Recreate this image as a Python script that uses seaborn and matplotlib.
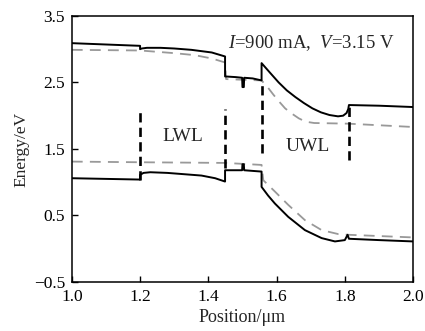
import numpy as np
import pandas as pd
import matplotlib
matplotlib.use("Agg")
import matplotlib.pyplot as plt
import seaborn as sns

# Conduction band (solid, upper)
cb_x = [1.0, 1.2, 1.2, 1.205, 1.22, 1.26, 1.30, 1.35, 1.41, 1.449, 1.449, 1.48, 1.499, 1.500, 1.504, 1.505, 1.53, 1.556,
        1.556, 1.58, 1.606, 1.63, 1.655, 1.68, 1.705, 1.73, 1.755, 1.78, 1.795, 1.805, 1.81, 1.812, 1.9, 2.0]
cb_y = [3.09, 3.05, 3.00, 3.01, 3.02, 3.02, 3.01, 2.99, 2.95, 2.89, 2.59, 2.58, 2.57, 2.43, 2.43, 2.57, 2.56, 2.53,
        2.79, 2.65, 2.50, 2.38, 2.28, 2.19, 2.11, 2.05, 2.01, 1.99, 2.00, 2.04, 2.10, 2.16, 2.15, 2.13]

# Electron quasi-Fermi level (grey dashed, upper)
fn_x = [1.0, 1.2, 1.3, 1.36, 1.41, 1.449, 1.452, 1.50, 1.556, 1.575, 1.59, 1.606, 1.625, 1.645, 1.665, 1.685, 1.71, 1.81, 2.0]
fn_y = [2.99, 2.98, 2.94, 2.91, 2.86, 2.80, 2.55, 2.54, 2.53, 2.42, 2.32, 2.22, 2.11, 2.03, 1.96, 1.91, 1.89, 1.88, 1.83]

# Valence band (solid, lower)
vb_x = [1.0, 1.2, 1.2, 1.21, 1.23, 1.28, 1.33, 1.38, 1.42, 1.449, 1.449, 1.48, 1.499, 1.500, 1.504, 1.505, 1.53, 1.556,
        1.556, 1.575, 1.595, 1.634, 1.683, 1.732, 1.771, 1.80, 1.808, 1.812, 1.9, 2.0]
vb_y = [1.06, 1.04, 1.11, 1.14, 1.15, 1.14, 1.12, 1.10, 1.06, 1.01, 1.18, 1.18, 1.18, 1.27, 1.27, 1.18, 1.17, 1.16,
        0.93, 0.80, 0.68, 0.48, 0.28, 0.16, 0.11, 0.13, 0.21, 0.15, 0.13, 0.11]

# Hole quasi-Fermi level (grey dashed, lower)
fp_x = [1.0, 1.2, 1.45, 1.556, 1.561, 1.595, 1.634, 1.683, 1.732, 1.781, 1.81, 2.0]
fp_y = [1.31, 1.30, 1.29, 1.26, 1.03, 0.86, 0.66, 0.43, 0.28, 0.22, 0.21, 0.17]

# Boundary markers (black dashed verticals)
mark_x = [1.2, 1.449, 1.556, 1.812]
mark_lo = [1.03, 1.22, 1.44, 1.33]
mark_hi = [2.10, 2.10, 2.52, 2.16]

x_ticks = [1.0, 1.2, 1.4, 1.6, 1.8, 2.0]
y_ticks = [-0.5, 0.5, 1.5, 2.5, 3.5]

sns.set_style("white")
plt.rcParams["font.family"] = ["Liberation Serif", "DejaVu Serif"]
plt.rcParams["mathtext.fontset"] = "custom"
plt.rcParams["mathtext.it"] = "Liberation Serif:italic"
plt.rcParams["mathtext.rm"] = "Liberation Serif"

fig, ax = plt.subplots(figsize=(4.25, 3.31), dpi=100)
fig.subplots_adjust(left=0.169, right=0.972, top=0.952, bottom=0.148)

def line(xs, ys, **kw):
    df = pd.DataFrame({"x": xs, "y": ys})
    sns.lineplot(data=df, x="x", y="y", sort=False, estimator=None, ax=ax, **kw)

line(fn_x, fn_y, color="#999999", lw=1.3, dashes=(6, 4))
line(fp_x, fp_y, color="#999999", lw=1.3, dashes=(6, 4))
line(cb_x, cb_y, color="black", lw=1.4)
line(vb_x, vb_y, color="black", lw=1.4)
for mx, lo, hi in zip(mark_x, mark_lo, mark_hi):
    line([mx, mx], [lo, hi], color="black", lw=1.9, dashes=(3.5, 2))

ax.set_xlim(1.0, 2.0)
ax.set_ylim(-0.5, 3.5)
ax.set_xticks(x_ticks)
ax.set_yticks(y_ticks)
ax.set_xticklabels([f"{v:.1f}" for v in x_ticks])
ax.set_yticklabels([f"{v:.1f}".replace("-", "\u2212") for v in y_ticks])
ax.tick_params(direction="in", length=4, width=1, labelsize=12.5, pad=5, colors="black",
               top=False, right=False, bottom=True, left=True)
for s in ax.spines.values():
    s.set_color("black")
    s.set_linewidth(1.1)

ax.set_xlabel("Position/\u03bcm", fontsize=13, labelpad=3)
ax.set_ylabel("Energy/eV", fontsize=12.5, labelpad=3)

ax.text(0.947, 0.898, r"$I$=900 mA,  $V$=3.15 V", transform=ax.transAxes, ha="right", va="center", fontsize=13.5)
ax.text(1.326, 1.68, "LWL", ha="center", va="center", fontsize=14)
ax.text(1.692, 1.535, "UWL", ha="center", va="center", fontsize=14)

fig.savefig("out.png", dpi=100)
